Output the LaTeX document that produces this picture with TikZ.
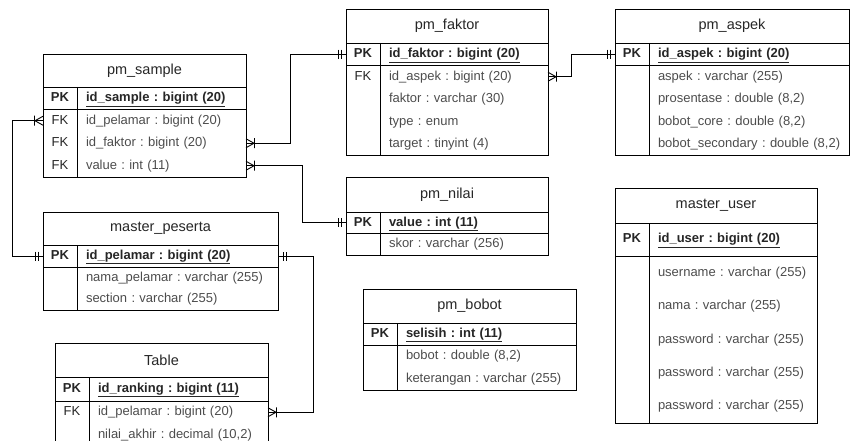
\documentclass[tikz,border=0pt]{standalone}
\usepackage{fontspec}
\setmainfont{Liberation Sans}
\frenchspacing
\usetikzlibrary{positioning}
\tikzset{
  Titel/.style={draw, minimum width=#1, minimum height=34pt, inner sep=0pt, outer sep=0pt,
    font=\fontsize{14.5}{16}\selectfont, text=black!85}, % Tabellenkopf
  Schluessel/.style={minimum width=34pt, minimum height=22.5pt, inner sep=0pt, outer sep=0pt,
    text height=9.5pt, text depth=2.5pt, font=\fontsize{13}{15}\selectfont, text=black!85}, % PK / FK
  Feld/.style={minimum height=22.5pt, inner xsep=9pt, inner ysep=0pt, outer sep=0pt,
    text width=#1, align=left, text height=9.5pt, text depth=2.5pt,
    font=\fontsize{13}{15}\selectfont, text=black!70}, % Spalte
  PKFeld/.style={Feld=#1, font=\fontsize{13}{15}\selectfont\bfseries, text=black!85},
  eins/.pic={\draw (-5,-4.5) -- (-5,4.5) (-8,-4.5) -- (-8,4.5);}, % genau eins
  viele/.pic={\draw (0,-4.5) -- (-8,0) -- (0,4.5) (-8.5,-5) -- (-8.5,5);} % eins bis viele
}
\begin{document}
\begin{tikzpicture}[x=1pt, y=-1pt, line width=0.9pt]
\useasboundingbox (0,0) rectangle (852,441);
\clip (0,0) rectangle (852,441);

%pm_sample
\node[Titel=203pt, minimum height=33pt, anchor=north west] (sample) at (43,54) {pm\_sample};
\node[Schluessel, anchor=north west] (sample-k0) at (sample.south west) {\textbf{PK}};
\node[PKFeld=151pt, right=0pt of sample-k0] (sample-f0) {\underline{id\_sample : bigint (20)}};
\node[Schluessel, below=0pt of sample-k0] (sample-k1) {FK};
\node[Feld=151pt, right=0pt of sample-k1] (sample-f1) {id\_pelamar : bigint (20)};
\node[Schluessel, below=0pt of sample-k1] (sample-k2) {FK};
\node[Feld=151pt, right=0pt of sample-k2] (sample-f2) {id\_faktor : bigint (20)};
\node[Schluessel, below=0pt of sample-k2] (sample-k3) {FK};
\node[Feld=151pt, right=0pt of sample-k3] (sample-f3) {value : int (11)};
\draw (sample-k0.north west) rectangle (sample-f0.south east);
\draw (sample-k1.north west) rectangle (sample-f3.south east);
\draw (sample-k0.north east) -- (sample-k3.south east);

%pm_faktor
\node[Titel=202pt, anchor=north west] (faktor) at (346,9) {pm\_faktor};
\node[Schluessel, anchor=north west] (faktor-k0) at (faktor.south west) {\textbf{PK}};
\node[PKFeld=150pt, right=0pt of faktor-k0] (faktor-f0) {\underline{id\_faktor : bigint (20)}};
\node[Schluessel, below=0pt of faktor-k0] (faktor-k1) {FK};
\node[Feld=150pt, right=0pt of faktor-k1] (faktor-f1) {id\_aspek : bigint (20)};
\node[Schluessel, below=0pt of faktor-k1] (faktor-k2) {};
\node[Feld=150pt, right=0pt of faktor-k2] (faktor-f2) {faktor : varchar (30)};
\node[Schluessel, below=0pt of faktor-k2] (faktor-k3) {};
\node[Feld=150pt, right=0pt of faktor-k3] (faktor-f3) {type : enum};
\node[Schluessel, below=0pt of faktor-k3] (faktor-k4) {};
\node[Feld=150pt, right=0pt of faktor-k4] (faktor-f4) {target : tinyint (4)};
\draw (faktor-k0.north west) rectangle (faktor-f0.south east);
\draw (faktor-k1.north west) rectangle (faktor-f4.south east);
\draw (faktor-k0.north east) -- (faktor-k4.south east);

%pm_aspek
\node[Titel=234pt, anchor=north west] (aspek) at (615,9) {pm\_aspek};
\node[Schluessel, anchor=north west] (aspek-k0) at (aspek.south west) {\textbf{PK}};
\node[PKFeld=182pt, right=0pt of aspek-k0] (aspek-f0) {\underline{id\_aspek : bigint (20)}};
\node[Schluessel, below=0pt of aspek-k0] (aspek-k1) {};
\node[Feld=182pt, right=0pt of aspek-k1] (aspek-f1) {aspek : varchar (255)};
\node[Schluessel, below=0pt of aspek-k1] (aspek-k2) {};
\node[Feld=182pt, right=0pt of aspek-k2] (aspek-f2) {prosentase : double (8,2)};
\node[Schluessel, below=0pt of aspek-k2] (aspek-k3) {};
\node[Feld=182pt, right=0pt of aspek-k3] (aspek-f3) {bobot\_core : double (8,2)};
\node[Schluessel, below=0pt of aspek-k3] (aspek-k4) {};
\node[Feld=182pt, right=0pt of aspek-k4] (aspek-f4) {\mbox{bobot\_secondary : double (8,2)}};
\draw (aspek-k0.north west) rectangle (aspek-f0.south east);
\draw (aspek-k1.north west) rectangle (aspek-f4.south east);
\draw (aspek-k0.north east) -- (aspek-k4.south east);

%pm_nilai
\node[Titel=202pt, minimum height=35pt, anchor=north west] (nilai) at (346,177) {pm\_nilai};
\node[Schluessel, minimum height=21pt, anchor=north west] (nilai-k0) at (nilai.south west) {\textbf{PK}};
\node[PKFeld=150pt, minimum height=21pt, right=0pt of nilai-k0] (nilai-f0) {\underline{value : int (11)}};
\node[Schluessel, below=0pt of nilai-k0] (nilai-k1) {};
\node[Feld=150pt, right=0pt of nilai-k1] (nilai-f1) {skor : varchar (256)};
\draw (nilai-k0.north west) rectangle (nilai-f0.south east);
\draw (nilai-k1.north west) rectangle (nilai-f1.south east);
\draw (nilai-k0.north east) -- (nilai-k1.south east);

%master_peserta
\node[Titel=235pt, minimum height=33pt, anchor=north west] (peserta) at (43,212) {master\_peserta};
\node[Schluessel, minimum height=22pt, anchor=north west] (peserta-k0) at (peserta.south west) {\textbf{PK}};
\node[PKFeld=183pt, minimum height=22pt, right=0pt of peserta-k0] (peserta-f0) {\underline{id\_pelamar : bigint (20)}};
\node[Schluessel, minimum height=21.5pt, below=0pt of peserta-k0] (peserta-k1) {};
\node[Feld=183pt, minimum height=21.5pt, right=0pt of peserta-k1] (peserta-f1) {nama\_pelamar : varchar (255)};
\node[Schluessel, minimum height=21.5pt, below=0pt of peserta-k1] (peserta-k2) {};
\node[Feld=183pt, minimum height=21.5pt, right=0pt of peserta-k2] (peserta-f2) {section : varchar (255)};
\draw (peserta-k0.north west) rectangle (peserta-f0.south east);
\draw (peserta-k1.north west) rectangle (peserta-f2.south east);
\draw (peserta-k0.north east) -- (peserta-k2.south east);

%Table
\node[Titel=213pt, anchor=north west] (tabel) at (55,343) {Table};
\node[Schluessel, minimum height=24pt, anchor=north west] (tabel-k0) at (tabel.south west) {\textbf{PK}};
\node[PKFeld=161pt, minimum height=24pt, right=0pt of tabel-k0] (tabel-f0) {\underline{id\_ranking : bigint (11)}};
\node[Schluessel, below=0pt of tabel-k0] (tabel-k1) {FK};
\node[Feld=161pt, right=0pt of tabel-k1] (tabel-f1) {id\_pelamar : bigint (20)};
\node[Schluessel, below=0pt of tabel-k1] (tabel-k2) {};
\node[Feld=161pt, right=0pt of tabel-k2] (tabel-f2) {nilai\_akhir : decimal (10,2)};
\draw (tabel-k0.north west) rectangle (tabel-f0.south east);
\draw (tabel-k1.north west) rectangle (tabel-f2.south east);
\draw (tabel-k0.north east) -- (tabel-k2.south east);

%pm_bobot
\node[Titel=213pt, anchor=north west] (bobot) at (363,289) {pm\_bobot};
\node[Schluessel, minimum height=22pt, anchor=north west] (bobot-k0) at (bobot.south west) {\textbf{PK}};
\node[PKFeld=161pt, minimum height=22pt, right=0pt of bobot-k0] (bobot-f0) {\underline{selisih : int (11)}};
\node[Schluessel, below=0pt of bobot-k0] (bobot-k1) {};
\node[Feld=161pt, right=0pt of bobot-k1] (bobot-f1) {bobot : double (8,2)};
\node[Schluessel, below=0pt of bobot-k1] (bobot-k2) {};
\node[Feld=161pt, right=0pt of bobot-k2] (bobot-f2) {keterangan : varchar (255)};
\draw (bobot-k0.north west) rectangle (bobot-f0.south east);
\draw (bobot-k1.north west) rectangle (bobot-f2.south east);
\draw (bobot-k0.north east) -- (bobot-k2.south east);

%master_user
\node[Titel=202pt, minimum height=35pt, anchor=north west] (user) at (615,188) {master\_user};
\node[Schluessel, minimum height=33pt, anchor=north west] (user-k0) at (user.south west) {\textbf{PK}};
\node[PKFeld=150pt, minimum height=33pt, right=0pt of user-k0] (user-f0) {\underline{id\_user : bigint (20)}};
\node[Schluessel, minimum height=33.4pt, below=0pt of user-k0] (user-k1) {};
\node[Feld=150pt, minimum height=33.4pt, right=0pt of user-k1] (user-f1) {username : varchar (255)};
\node[Schluessel, minimum height=33.4pt, below=0pt of user-k1] (user-k2) {};
\node[Feld=150pt, minimum height=33.4pt, right=0pt of user-k2] (user-f2) {nama : varchar (255)};
\node[Schluessel, minimum height=33.4pt, below=0pt of user-k2] (user-k3) {};
\node[Feld=150pt, minimum height=33.4pt, right=0pt of user-k3] (user-f3) {password : varchar (255)};
\node[Schluessel, minimum height=33.4pt, below=0pt of user-k3] (user-k4) {};
\node[Feld=150pt, minimum height=33.4pt, right=0pt of user-k4] (user-f4) {password : varchar (255)};
\node[Schluessel, minimum height=33.4pt, below=0pt of user-k4] (user-k5) {};
\node[Feld=150pt, minimum height=33.4pt, right=0pt of user-k5] (user-f5) {password : varchar (255)};
\draw (user-k0.north west) rectangle (user-f0.south east);
\draw (user-k1.north west) rectangle (user-f5.south east);
\draw (user-k0.north east) -- (user-k5.south east);

%Beziehungen
\draw (sample-k1.west) -- ++(-31,0) |- (peserta-k0.west);
\pic at (sample-k1.west) {viele};
\pic at (peserta-k0.west) {eins};

\draw (sample-f2.east) -- ++(44,0) |- (faktor-k0.west);
\pic[rotate=180] at (sample-f2.east) {viele};
\pic at (faktor-k0.west) {eins};

\draw (sample-f3.east) -- ++(56,0) |- (nilai-k0.west);
\pic[rotate=180] at (sample-f3.east) {viele};
\pic at (nilai-k0.west) {eins};

\draw (faktor-f1.east) -- ++(23,0) |- (aspek-k0.west);
\pic[rotate=180] at (faktor-f1.east) {viele};
\pic at (aspek-k0.west) {eins};

\draw (peserta-f0.east) -- ++(35,0) |- (tabel-f1.east);
\pic[rotate=180] at (peserta-f0.east) {eins};
\pic[rotate=180] at (tabel-f1.east) {viele};
\end{tikzpicture}
\end{document}
